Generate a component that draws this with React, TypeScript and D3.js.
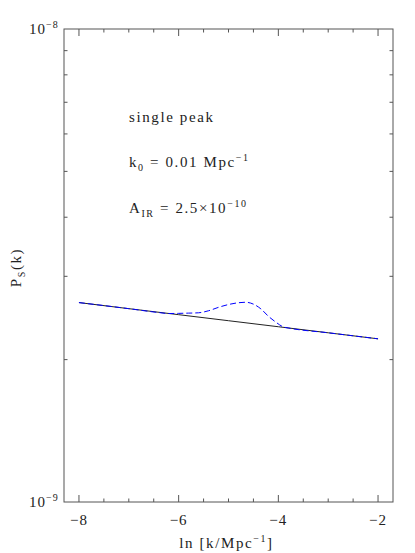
import React from 'react';
import * as d3 from 'd3';

// ln k values and P_S(k) (units of 1e-9)
const lnK = [-8, -7, -6, -5, -4, -3, -2];
const psBase = [2.64, 2.563, 2.489, 2.417, 2.347, 2.279, 2.213];

const lnKPeak = [-8, -7, -6.4, -6.2, -6.0, -5.8, -5.6, -5.4, -5.2, -5.0, -4.8, -4.65, -4.5, -4.35, -4.2, -4.05, -3.9, -3.8, -3, -2];
const psPeak = [2.64, 2.563, 2.515, 2.503, 2.505, 2.508, 2.512, 2.537, 2.58, 2.615, 2.638, 2.644, 2.62, 2.56, 2.47, 2.4, 2.345, 2.333, 2.279, 2.213];

const xMajor = [-8, -6, -4, -2];
const xMinor = [-7.5, -7, -6.5, -5.5, -5, -4.5, -3.5, -3, -2.5];
const yMinor = [2, 3, 4, 5, 6, 7, 8, 9];

const W = 415;
const H = 553;
const left = 64, right = 393, top = 29, bottom = 502;
const font = '"Liberation Serif", "DejaVu Serif", serif';
const ink = '#222';

function App() {
  const x = d3.scaleLinear().domain([-8.3, -1.7]).range([left, right]);
  const y = d3.scaleLog().domain([1e-9, 1e-8]).range([bottom, top]);

  const line = d3
    .line<[number, number]>()
    .x(d => x(d[0]))
    .y(d => y(d[1] * 1e-9))
    .curve(d3.curveMonotoneX);

  const base = lnK.map((k, i) => [k, psBase[i]] as [number, number]);
  const peak = lnKPeak.map((k, i) => [k, psPeak[i]] as [number, number]);

  const axisColor = '#555';
  const txt = { fontFamily: font, fill: ink, letterSpacing: '1px' };
  const wide = { fontFamily: font, fill: ink, letterSpacing: '1.6px' };

  return (
    <svg width={W} height={H} style={{ position: 'absolute', left: 0, top: 0, background: '#fff' }}>
      <rect x={left} y={top} width={right - left} height={bottom - top} fill="none" stroke={axisColor} strokeWidth={1} />

      {/* x ticks, bottom and top */}
      {xMajor.map(v => (
        <g key={'M' + v}>
          <line x1={x(v)} x2={x(v)} y1={bottom} y2={bottom - 7} stroke={axisColor} />
          <line x1={x(v)} x2={x(v)} y1={top} y2={top + 7} stroke={axisColor} />
          <text x={x(v)} y={525} textAnchor="middle" fontSize={15} {...txt}>
            {'\u2212' + Math.abs(v)}
          </text>
        </g>
      ))}
      {xMinor.map(v => (
        <g key={'m' + v}>
          <line x1={x(v)} x2={x(v)} y1={bottom} y2={bottom - 3.5} stroke={axisColor} />
          <line x1={x(v)} x2={x(v)} y1={top} y2={top + 3.5} stroke={axisColor} />
        </g>
      ))}

      {/* y minor ticks, left and right */}
      {yMinor.map(v => (
        <g key={'y' + v}>
          <line x1={left} x2={left + 3.5} y1={y(v * 1e-9)} y2={y(v * 1e-9)} stroke={axisColor} />
          <line x1={right} x2={right - 3.5} y1={y(v * 1e-9)} y2={y(v * 1e-9)} stroke={axisColor} />
        </g>
      ))}

      {/* y tick labels */}
      <text x={29} y={y(1e-8) + 5} fontSize={15} {...txt}>
        10<tspan dy={-6} fontSize={10}>{'\u22128'}</tspan>
      </text>
      <text x={29} y={y(1e-9) + 5} fontSize={15} {...txt}>
        10<tspan dy={-6} fontSize={10}>{'\u22129'}</tspan>
      </text>

      {/* axis titles */}
      <text x={x(-5) - 2} y={548} textAnchor="middle" fontSize={15} {...wide}>
        ln [k/Mpc<tspan dy={-6} fontSize={10}>{'\u22121'}</tspan>
        <tspan dy={6}>]</tspan>
      </text>
      <text transform={`translate(21,${(top + bottom) / 2 + 2}) rotate(-90)`} textAnchor="middle" fontSize={15} {...wide}>
        P<tspan dy={4} fontSize={10}>S</tspan>
        <tspan dy={-4}>(k)</tspan>
      </text>

      {/* annotations */}
      <text x={129} y={122} fontSize={15} {...wide}>single peak</text>
      <text x={129} y={167} fontSize={15} {...wide}>
        k<tspan dy={4} fontSize={10}>0</tspan>
        <tspan dy={-4}> = 0.01 Mpc</tspan>
        <tspan dy={-6} fontSize={10}>{'\u22121'}</tspan>
      </text>
      <text x={129} y={213} fontSize={15} {...wide}>
        A<tspan dy={4} fontSize={10}>IR</tspan>
        <tspan dy={-4}> = 2.5×10</tspan>
        <tspan dy={-6} fontSize={10}>{'\u221210'}</tspan>
      </text>

      {/* curves */}
      <path d={line(base) || ''} fill="none" stroke={ink} strokeWidth={1} />
      <path d={line(peak) || ''} fill="none" stroke="#0000ff" strokeWidth={1} strokeDasharray="6,3" />
    </svg>
  );
}

export default App;
